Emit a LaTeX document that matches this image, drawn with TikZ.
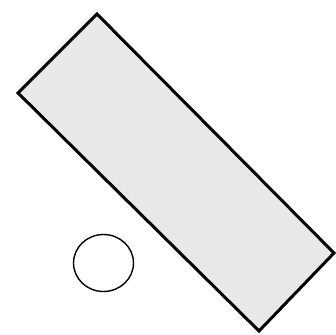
\documentclass[tikz,border=0pt]{standalone}
\definecolor{boxgray}{HTML}{E8E8E8}
\tikzset{slab/.style={draw=black,fill=boxgray,line width=3pt,line join=miter},
 ring/.style={draw=black,line width=1.4pt,fill=white}}
\begin{document}
\begin{tikzpicture}[x=1pt,y=-1pt]
\useasboundingbox (0,0) rectangle (336,334);
\draw[slab] (97,14) -- (18,93) -- (259,331) -- (334,253) -- cycle;
\draw[ring] (103.5,263) ellipse [x radius=30, y radius=28.5];
\end{tikzpicture}
\end{document}
